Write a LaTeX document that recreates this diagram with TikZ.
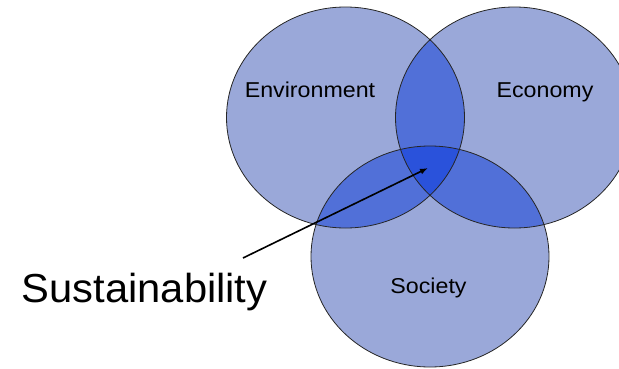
\documentclass[tikz,border=0pt]{standalone}
\usepackage{graphicx}
\usepackage{fontspec}
\setmainfont{Liberation Sans}
\usetikzlibrary{arrows.meta}

\definecolor{onecol}{RGB}{154,168,217}
\definecolor{twocol}{RGB}{81,112,216}
\definecolor{threecol}{RGB}{42,82,219}

\newcommand{\widetext}[2][1.08]{\scalebox{#1}[1]{#2}}

\begin{document}
\begin{tikzpicture}[x=1pt, y=1pt,
	ring/.style={draw=black!85, line width=0.8pt},
	label/.style={inner sep=0pt, anchor=base, font=\fontsize{21.5}{26}\selectfont}]
	\useasboundingbox (0,0) rectangle (619,368);
	\clip (0,0) rectangle (619,368);

	\def\envpath{(345.5,250.5) ellipse (119pt and 110.5pt)}
	\def\ecopath{(514.5,250.5) ellipse (119pt and 110.5pt)}
	\def\socpath{(430,111.5) ellipse (119pt and 110.5pt)}

	% single areas
	\fill[onecol] \envpath;
	\fill[onecol] \ecopath;
	\fill[onecol] \socpath;

	% pairwise overlaps
	\begin{scope}
		\clip \envpath;
		\fill[twocol] \ecopath;
		\fill[twocol] \socpath;
	\end{scope}
	\begin{scope}
		\clip \ecopath;
		\fill[twocol] \socpath;
	\end{scope}

	% all three
	\begin{scope}
		\clip \envpath;
		\clip \ecopath;
		\fill[threecol] \socpath;
	\end{scope}

	\draw[ring] \envpath;
	\draw[ring] \ecopath;
	\draw[ring] \socpath;

	\node[label] (env) at (310,271) {\widetext{Environment}};
	\node[label] (eco) at (545,271) {\widetext{Economy}};
	\node[label] (soc) at (428.5,75) {\widetext{Society}};

	\node[inner sep=0pt, anchor=base west, font=\fontsize{40.5}{48}\selectfont] (sust) at (21.5,66) {\widetext[1.03]{Sustainability}};
	\coordinate (tail) at (243,110);
	\coordinate (core) at (428,200);
	\draw[-{Latex[length=8pt, width=6pt]}, line width=1.6pt] (tail) -- (core);
\end{tikzpicture}
\end{document}
